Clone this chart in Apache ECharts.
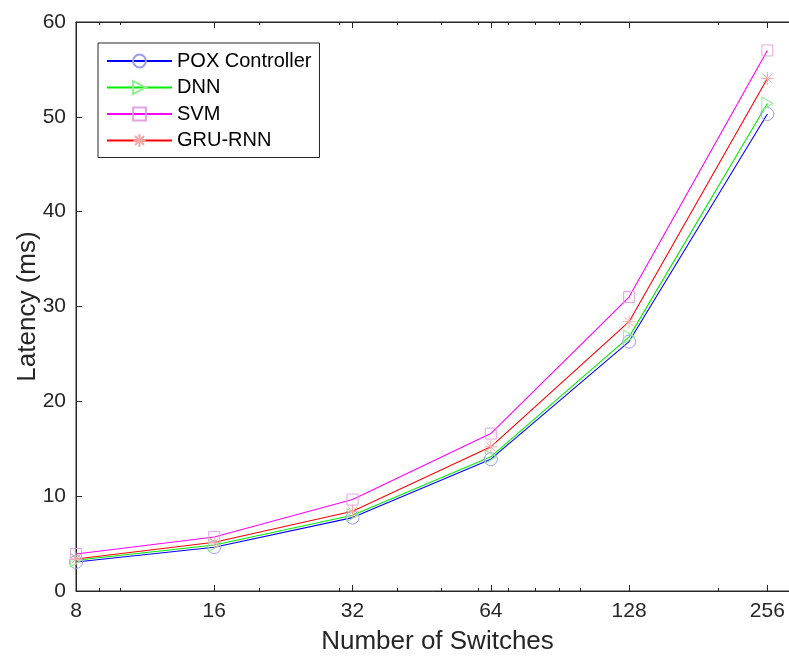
<!DOCTYPE html>
<html>
<head>
<meta charset="utf-8">
<script src="https://cdn.jsdelivr.net/npm/echarts@6/dist/echarts.min.js"></script>
<style>html,body{margin:0;padding:0;background:#fff;}#c{width:789px;height:658px;}</style>
</head>
<body>
<div id="c"></div>
<script>
const switches = [8, 16, 32, 64, 128, 256];
const poxController = [3.06, 4.62, 7.74, 13.9, 26.3, 50.3];
const dnn = [3.24, 4.85, 7.99, 14.15, 26.8, 51.4];
const svm = [3.9, 5.7, 9.64, 16.6, 31.0, 57.0];
const gruRnn = [3.38, 5.14, 8.41, 15.2, 28.4, 54.05];
const xMajorTicks = [8, 16, 32, 64, 128, 256];
const xMinorTicks = [9, 10, 20, 30, 40, 50, 60, 70, 80, 90, 100, 200];
const yTicks = [0, 10, 20, 30, 40, 50, 60];

const FONT = 'Liberation Sans';
const TXT = '#262626';
const AX = '#262626';

function pairs(ys) { return switches.map((x, i) => [x, ys[i]]); }

const chart = echarts.init(document.getElementById('c'), null, {renderer: 'canvas'});

const baseX = {
  type: 'log', logBase: 2, min: 8, max: 300, gridIndex: 0,
  splitLine: {show: false}, minorTick: {show: false}, minorSplitLine: {show: false}
};

function makeSeries(name, ys, lineColor, markColor, symbol, size) {
  return {
    name: name, type: 'line', data: pairs(ys), xAxisIndex: 0, yAxisIndex: 0,
    symbol: symbol, symbolSize: size, showSymbol: true, showAllSymbol: true,
    lineStyle: {color: lineColor, width: 1.1},
    itemStyle: {color: 'rgba(0,0,0,0)', borderColor: markColor, borderWidth: 1},
    emphasis: {disabled: true}, animation: false, z: 3
  };
}

const option = {
  animation: false,
  backgroundColor: '#ffffff',
  textStyle: {fontFamily: FONT, color: TXT},
  grid: {
    left: 76, top: 22, right: -10, bottom: 67,
    show: true, borderColor: AX, borderWidth: 1, backgroundColor: '#ffffff',
    containLabel: false, outerBoundsMode: 'none'
  },
  legend: {
    orient: 'vertical', left: 98, top: 43,
    padding: [8, 8, 7, 8],
    itemWidth: 65, itemHeight: 16, itemGap: 6.5,
    borderColor: AX, borderWidth: 1, backgroundColor: '#ffffff',
    textStyle: {fontFamily: FONT, fontSize: 20, color: '#000'},
    data: ['POX Controller', 'DNN', 'SVM', 'GRU-RNN']
  },
  xAxis: [
    Object.assign({}, baseX, {
      position: 'bottom',
      name: 'Number of Switches', nameLocation: 'middle', nameGap: 38, nameMoveOverlap: false,
      nameTextStyle: {fontFamily: FONT, fontSize: 26, color: TXT},
      axisLine: {show: true, lineStyle: {color: AX, width: 1}},
      axisTick: {show: true, inside: true, length: 6, lineStyle: {color: AX}, customValues: xMajorTicks},
      axisLabel: {show: true, margin: 10, fontFamily: FONT, fontSize: 21, color: TXT, customValues: xMajorTicks,
        formatter: v => String(Math.round(v)), showMinLabel: true, showMaxLabel: true, hideOverlap: false}
    }),
    Object.assign({}, baseX, {
      position: 'bottom',
      axisLine: {show: false},
      axisTick: {show: true, inside: true, length: 3, lineStyle: {color: AX}, customValues: xMinorTicks},
      axisLabel: {show: false}
    }),
    Object.assign({}, baseX, {
      position: 'top',
      axisLine: {show: true, lineStyle: {color: AX, width: 1}},
      axisTick: {show: true, inside: true, length: 6, lineStyle: {color: AX}, customValues: xMajorTicks},
      axisLabel: {show: false}
    }),
    Object.assign({}, baseX, {
      position: 'top',
      axisLine: {show: false},
      axisTick: {show: true, inside: true, length: 3, lineStyle: {color: AX}, customValues: xMinorTicks},
      axisLabel: {show: false}
    })
  ],
  yAxis: [{
    type: 'value', min: 0, max: 60, interval: 10, position: 'left',
    name: 'Latency (ms)', nameLocation: 'middle', nameGap: 35, nameRotate: 90, nameMoveOverlap: false,
    nameTextStyle: {fontFamily: FONT, fontSize: 26, color: TXT},
    splitLine: {show: false},
    axisLine: {show: true, lineStyle: {color: AX, width: 1}},
    axisTick: {show: true, inside: true, length: 6, lineStyle: {color: AX}},
    axisLabel: {show: true, margin: 10, fontFamily: FONT, fontSize: 21, color: TXT,
      customValues: yTicks, showMinLabel: true, showMaxLabel: true}
  }],
  series: [
    makeSeries('POX Controller', poxController, '#0000ff', '#9c9cf0', 'circle', 13),
    makeSeries('DNN', dnn, '#00ee00', '#90ee90', 'path://M0,0L10,6L0,12Z', [11, 13]),
    makeSeries('SVM', svm, '#ff00ff', '#e4a4e4', 'rect', 11),
    makeSeries('GRU-RNN', gruRnn, '#ff0000', '#f4a8a8', 'path://M0,-10L0,10M-10,0L10,0M-7,-7L7,7M-7,7L7,-7', 13)
  ]
};
chart.setOption(option);
</script>
</body>
</html>
